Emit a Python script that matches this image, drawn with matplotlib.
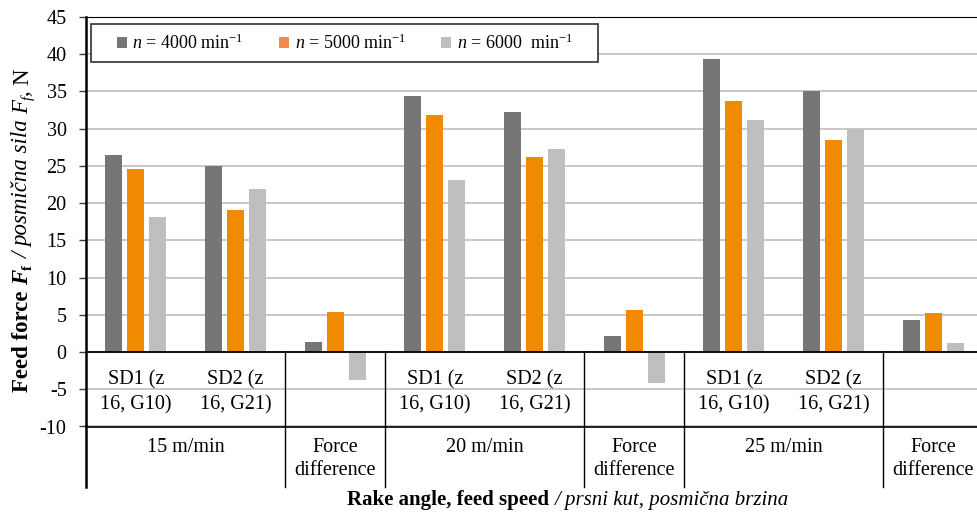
import numpy as np
import matplotlib
matplotlib.use("Agg")
import matplotlib.pyplot as plt
from matplotlib.patches import Patch, Rectangle
from matplotlib.font_manager import FontProperties
from matplotlib.transforms import IdentityTransform
from matplotlib.ticker import FuncFormatter


# Values (feed force, N).
subLabels = ["SD1 (z\n16, G10)", "SD2 (z\n16, G21)", "",
             "SD1 (z\n16, G10)", "SD2 (z\n16, G21)", "",
             "SD1 (z\n16, G10)", "SD2 (z\n16, G21)", ""]
groupLabels = ["15 m/min", "Force\ndifference", "20 m/min", "Force\ndifference", "25 m/min", "Force\ndifference"]
groupSpans = [2, 1, 2, 1, 2, 1]

n4000 = [26.4, 25.0, 1.3, 34.4, 32.3, 2.1, 39.4, 35.1, 4.3]
n5000 = [24.6, 19.1, 5.4, 31.9, 26.2, 5.7, 33.7, 28.5, 5.2]
n6000 = [18.2, 21.9, -3.7, 23.1, 27.3, -4.2, 31.1, 29.9, 1.2]

seriesNames = [r"$n$ = 4000 min$^{-1}$", r"$n$ = 5000 min$^{-1}$", r"$n$ = 6000  min$^{-1}$"]
barColours = ["#767676", "#F08A00", "#BFBFC0"]
legendColours = ["#767676", "#F4894B", "#BFBFC0"]


plt.rcParams['font.family'] = 'Liberation Serif'
plt.rcParams['mathtext.fontset'] = 'custom'
plt.rcParams['mathtext.rm'] = 'Liberation Serif'
plt.rcParams['mathtext.it'] = 'Liberation Serif:italic'
plt.rcParams['mathtext.bf'] = 'Liberation Serif:bold'

fontSize = 14.5
W, H = 978, 520

fig = plt.figure(figsize=(W / 100, H / 100), dpi=100)
ax = fig.add_axes([86 / W, 1 - 426.5 / H, 897 / W, 409.5 / H])

x = np.arange(len(subLabels))
barWidth = 0.17
step = 0.22
for k, vals in enumerate([n4000, n5000, n6000]):
    ax.bar(x + (k - 1) * step, vals, barWidth, color=barColours[k], zorder=3)

ax.set_xlim(-0.5, len(subLabels) - 0.5)
ax.set_ylim(-10, 45)
ax.set_yticks(np.arange(-10, 50, 5))
ax.yaxis.set_major_formatter(FuncFormatter(lambda v, p: "%d" % v))
ax.tick_params(axis='y', labelsize=fontSize, length=5, width=1, pad=9, color='#404040')
ax.set_xticks([])
ax.yaxis.grid(True, color='#BFBFBF', linewidth=1.2, zorder=0)
ax.set_axisbelow(True)

ax.spines['right'].set_visible(False)
ax.spines['left'].set_linewidth(1.8)
ax.spines['bottom'].set_linewidth(1.2)
ax.axhline(0, color='black', linewidth=1.3, zorder=4)

# Category table below zero
bottomY = -18.1
for i, lab in enumerate(subLabels):
    if lab:
        ax.text(i, -5.4, lab, ha='center', va='center', fontsize=fontSize, linespacing=1.45)

pos = 0
for lab, span in zip(groupLabels, groupSpans):
    centre = pos + (span - 1) / 2.0
    ax.text(centre, -11.5, lab, ha='center', va='top', fontsize=fontSize, linespacing=1.3,
            clip_on=False)
    pos += span
    if pos < len(subLabels):
        ax.plot([pos - 0.5, pos - 0.5], [0, bottomY], color='black', linewidth=1, clip_on=False, zorder=5)

ax.plot([-0.5, -0.5], [-10, bottomY], color='black', linewidth=1.8, clip_on=False, zorder=5)


# Axis titles with mixed bold / italic pieces, laid out run by run
renderer = fig.canvas.get_renderer()


def fp(size, weight='normal', style='normal'):
    return FontProperties(family='Liberation Serif', size=size, weight=weight, style=style)


def textWidth(s, prop):
    t = fig.text(0, 0, s, fontproperties=prop, transform=IdentityTransform())
    w = t.get_window_extent(renderer).width
    t.remove()
    return w


def spaceWidth(prop):
    return textWidth("x x", prop) - textWidth("xx", prop)


def drawRuns(runs, centre, base, vertical):
    # runs: (text, props, space before, subscript)
    widths = []
    for s, prop, gap, sub in runs:
        widths.append(textWidth(s, prop) + (spaceWidth(prop) if gap else 0))
    total = sum(widths)
    cur = centre - total / 2.0
    for (s, prop, gap, sub), w in zip(runs, widths):
        if gap:
            cur += spaceWidth(prop)
        shift = 0.28 * prop.get_size_in_points() / 0.72 if sub else 0
        if vertical:
            fig.text(base + shift, cur, s, fontproperties=prop, rotation=90, rotation_mode='anchor',
                     ha='left', va='baseline', transform=IdentityTransform())
        else:
            fig.text(cur, base - shift, s, fontproperties=prop, ha='left', va='baseline',
                     transform=IdentityTransform())
        cur += w - (spaceWidth(prop) if gap else 0)


ys = 16.5
yRuns = [("Feed force", fp(ys, 'bold'), False, False),
         ("F", fp(ys, 'bold', 'italic'), True, False),
         ("f", fp(ys * 0.65, 'bold'), False, True),
         ("/", fp(ys, style='italic'), True, False),
         ("posmična sila", fp(ys, style='italic'), True, False),
         ("F", fp(ys, style='italic'), True, False),
         ("f", fp(ys * 0.65, style='italic'), False, True),
         (",", fp(ys), False, False),
         ("N", fp(ys), True, False)]
drawRuns(yRuns, H - 230, 28, True)

xs = 15
xRuns = [("Rake angle, feed speed", fp(xs, 'bold'), False, False),
         ("/ prsni kut, posmična brzina", fp(xs, style='italic'), True, False)]
drawRuns(xRuns, 568, H - 505, False)


# Legend: white box drawn separately, entries without frame
ax.add_patch(Rectangle(((91 - 86) / 897, (426.5 - 62) / 409.5), (598 - 91) / 897, 38 / 409.5,
                       transform=ax.transAxes, facecolor='white', edgecolor='#303030',
                       linewidth=1.2, zorder=6, clip_on=False))
legFont = 13
hsize = 10 / (legFont * 100 / 72)
handles = [Patch(facecolor=c, edgecolor='none') for c in legendColours]
leg = ax.legend(handles, seriesNames, loc='center left', bbox_to_anchor=((117 - 86) / 897, (426.5 - 43) / 409.5),
                ncol=3, fontsize=legFont, frameon=False, borderaxespad=0, borderpad=0,
                handlelength=hsize, handleheight=hsize, handletextpad=0.3, columnspacing=1.95)
leg.set_zorder(7)

fig.savefig("out.png", dpi=100)
